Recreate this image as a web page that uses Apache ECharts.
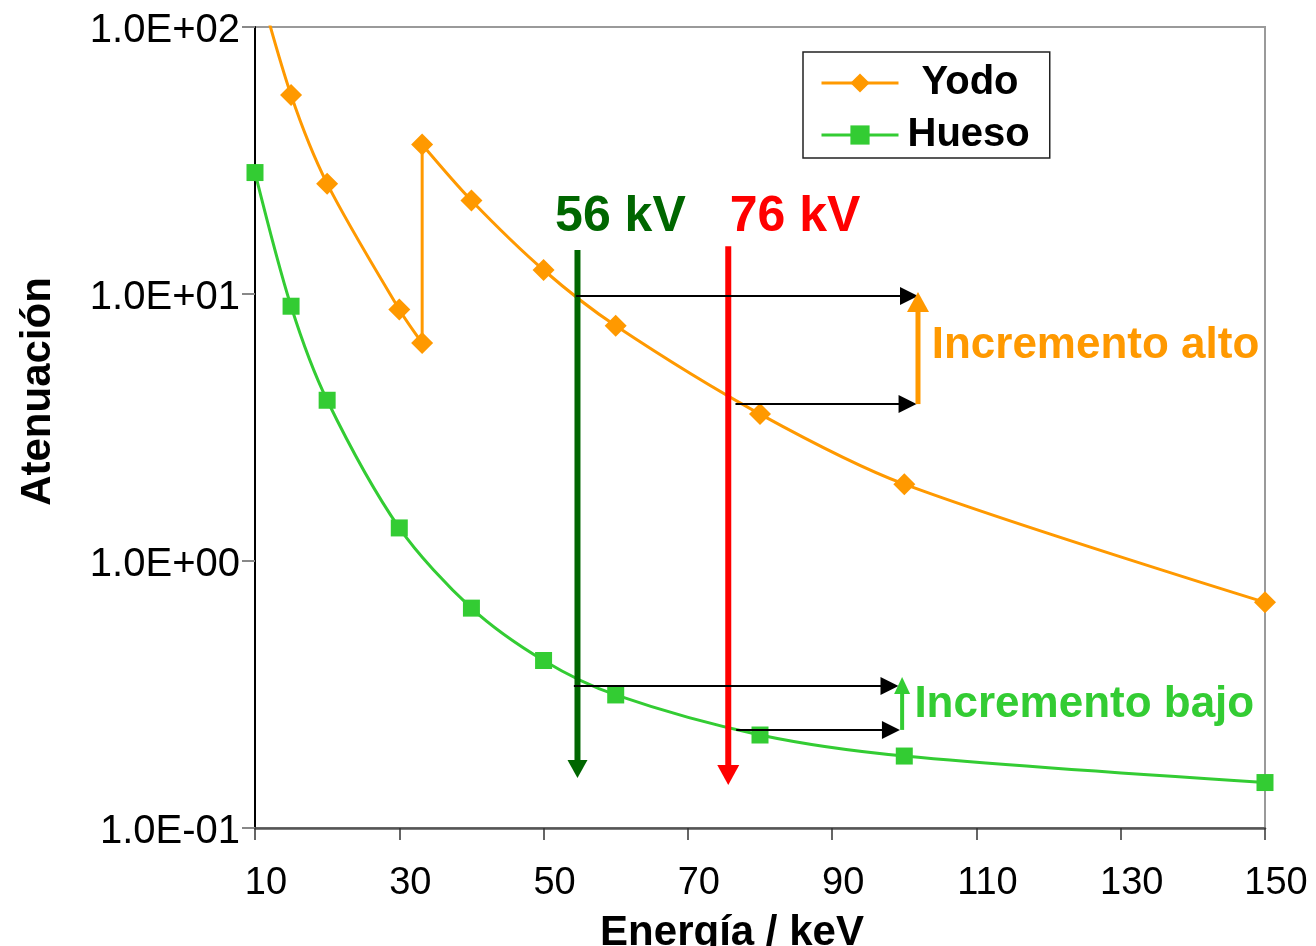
<!DOCTYPE html>
<html><head><meta charset="utf-8">
<script src="https://cdn.jsdelivr.net/npm/echarts@6/dist/echarts.min.js"></script>
<style>html,body{margin:0;padding:0;background:#fff}#c{width:1316px;height:946px}</style>
</head><body><div id="c"></div>
<script>
// ---- data ----
const yodoEnergy  = [10, 15, 20, 30, 33.17, 33.17, 40, 50, 60, 80, 100, 150];
const yodoAtten   = [162, 55.6, 25.9, 8.75, 6.55, 36.3, 22.4, 12.3, 7.6, 3.55, 1.94, 0.70];
const huesoEnergy = [10, 15, 20, 30, 40, 50, 60, 80, 100, 150];
const huesoAtten  = [28.5, 9.0, 4.0, 1.33, 0.666, 0.424, 0.315, 0.223, 0.186, 0.148];
const xTickStart = 10, xTickEnd = 150, xTickStep = 20;
const yTickValues = [0.1, 1, 10, 100];
const yTickLabels = ['1.0E-01', '1.0E+00', '1.0E+01', '1.0E+02'];
const seriesNames = ['Yodo', 'Hueso'];
// annotation arrows: [x0, y0, x1(tip), y1(tip)] in data units
const arrowCoords = [
  [54.7, 14.6, 54.7, 0.154],
  [75.6, 15.1, 75.6, 0.145],
  [54.5, 9.83, 101.9, 9.83],
  [76.6, 3.87, 101.7, 3.87],
  [101.9, 3.87, 101.9, 10.17],
  [54.2, 0.340, 99.2, 0.340],
  [76.7, 0.233, 99.4, 0.233],
  [99.7, 0.233, 99.7, 0.368]
];
const labelTexts = ['56 kV', '76 kV', 'Incremento alto', 'Incremento bajo'];
const labelCoords = [[51.6, 19.4], [75.8, 19.4], [103.8, 6.4], [101.4, 0.289]];

// ---- styles ----
const ORANGE = '#FF9900', GREEN = '#33CC33', DKGREEN = '#006600', RED = '#FF0000';
const arrowStyles = [
  {color: DKGREEN, width: 6, head: 18, hw: 10},
  {color: RED, width: 6, head: 20, hw: 11},
  {color: '#000', width: 2, head: 18, hw: 9},
  {color: '#000', width: 2, head: 18, hw: 9},
  {color: ORANGE, width: 5, head: 20, hw: 11},
  {color: '#000', width: 2, head: 18, hw: 9},
  {color: '#000', width: 2, head: 18, hw: 9},
  {color: GREEN, width: 4, head: 17, hw: 8}
];
const labelStyles = [
  {color: DKGREEN, size: 50},
  {color: RED, size: 50},
  {color: ORANGE, size: 44},
  {color: GREEN, size: 44}
];
const FONT = 'Liberation Sans, Arial, sans-serif';

const chart = echarts.init(document.getElementById('c'), null, {renderer: 'canvas'});
const zip = (a, b) => a.map((v, i) => [v, b[i]]);

chart.setOption({
  animation: false,
  backgroundColor: '#fff',
  grid: {left: 255, top: 27, right: 51, bottom: 118, show: true, borderColor: '#9a9a9a', borderWidth: 2,
         containLabel: false, outerBoundsMode: 'none'},
  legend: {
    orient: 'vertical', left: 803, top: 52,
    padding: [11, 20, 3, 17],
    backgroundColor: '#fff',
    borderColor: '#222', borderWidth: 1.5, borderRadius: 0,
    itemWidth: 77, itemHeight: 24, itemGap: 12,
    lineStyle: {width: 3},
    textStyle: {fontFamily: FONT, fontSize: 40, fontWeight: 'bold', color: '#000', lineHeight: 40},
    data: [
      {name: seriesNames[0], textStyle: {padding: [0, 0, 0, 18]}},
      {name: seriesNames[1], textStyle: {padding: [0, 0, 0, 4]}}
    ]
  },
  xAxis: {
    type: 'value', min: xTickStart, max: xTickEnd, interval: xTickStep,
    axisLine: {show: true, lineStyle: {color: '#555', width: 2.5}},
    axisTick: {show: true, length: 12, lineStyle: {color: '#333', width: 1.5}},
    axisLabel: {fontFamily: FONT, fontSize: 38, color: '#000', margin: 37, padding: [0, 0, 0, 22]},
    splitLine: {show: false},
    name: 'Energía / keV', nameLocation: 'middle', nameGap: 84,
    nameTextStyle: {fontFamily: FONT, fontSize: 42, fontWeight: 'bold', color: '#000', padding: [0, 56, 0, 0]}
  },
  yAxis: {
    type: 'log', logBase: 10, min: yTickValues[0], max: yTickValues[yTickValues.length - 1],
    axisLine: {show: true, lineStyle: {color: '#000', width: 2}},
    axisTick: {show: true, length: 13, lineStyle: {color: '#888', width: 2}},
    minorTick: {show: false},
    axisLabel: {
      margin: 15,
      formatter: v => {
        const i = yTickValues.findIndex(t => Math.abs(Math.log10(t) - Math.log10(v)) < 1e-6);
        return i >= 0 ? '{t|' + yTickLabels[i] + '}' : '';
      },
      rich: {t: {fontFamily: FONT, fontSize: 40, color: '#000', padding: [8, 0, 0, 0], lineHeight: 40}}
    },
    splitLine: {show: false},
    name: 'Atenuación', nameLocation: 'middle', nameGap: 196, nameRotate: 90,
    nameTextStyle: {fontFamily: FONT, fontSize: 42, fontWeight: 'bold', color: '#000', padding: [0, 0, 0, 72]}
  },
  series: [
    {
      name: seriesNames[0], type: 'line', data: zip(yodoEnergy, yodoAtten),
      smooth: 0.3, symbol: 'diamond', symbolSize: 22, showAllSymbol: true,
      lineStyle: {color: ORANGE, width: 3}, itemStyle: {color: ORANGE}, z: 2
    },
    {
      name: seriesNames[1], type: 'line', data: zip(huesoEnergy, huesoAtten),
      smooth: 0.3, symbol: 'rect', symbolSize: 17, showAllSymbol: true,
      lineStyle: {color: GREEN, width: 3}, itemStyle: {color: GREEN}, z: 2
    },
    {
      name: 'arrows', type: 'custom', silent: true, z: 5, clip: false,
      data: arrowCoords,
      encode: {x: [0, 2], y: [1, 3]},
      renderItem: (params, api) => {
        const st = arrowStyles[params.dataIndex];
        const p0 = api.coord([api.value(0), api.value(1)]);
        const p1 = api.coord([api.value(2), api.value(3)]);
        const dx = p1[0] - p0[0], dy = p1[1] - p0[1];
        const len = Math.hypot(dx, dy);
        const ux = dx / len, uy = dy / len;
        const bx = p1[0] - ux * st.head, by = p1[1] - uy * st.head;
        const nx = -uy, ny = ux;
        return {
          type: 'group', children: [
            {type: 'line', shape: {x1: p0[0], y1: p0[1], x2: bx + ux * 2, y2: by + uy * 2},
             style: {stroke: st.color, lineWidth: st.width}},
            {type: 'polygon', shape: {points: [[p1[0], p1[1]], [bx + nx * st.hw, by + ny * st.hw], [bx - nx * st.hw, by - ny * st.hw]]},
             style: {fill: st.color}}
          ]
        };
      }
    },
    {
      name: 'labels', type: 'custom', silent: true, z: 6, clip: false,
      data: labelCoords,
      encode: {x: 0, y: 1},
      renderItem: (params, api) => {
        const st = labelStyles[params.dataIndex];
        const p = api.coord([api.value(0), api.value(1)]);
        return {
          type: 'text',
          style: {text: labelTexts[params.dataIndex], x: p[0], y: p[1], fill: st.color,
                  font: 'bold ' + st.size + 'px ' + FONT, align: 'left', verticalAlign: 'middle'}
        };
      }
    }
  ]
});
</script></body></html>
